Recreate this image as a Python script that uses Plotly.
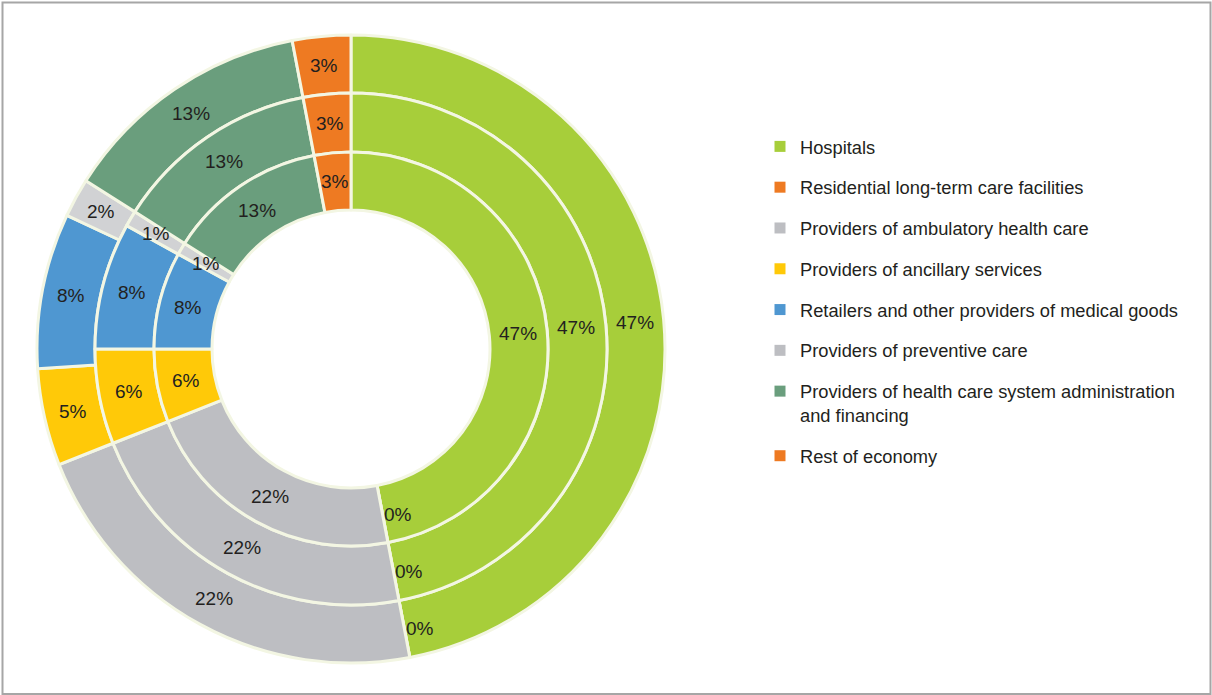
import math
import plotly.graph_objects as go

# Health expenditure by provider, three survey rings (inner, middle, outer)
categories = [
    "Hospitals",
    "Residential long-term care facilities",
    "Providers of ambulatory health care",
    "Providers of ancillary services",
    "Retailers and other providers of medical goods",
    "Providers of preventive care",
    "Providers of health care system administration<br>and financing",
    "Rest of economy",
]
inner_values = [47, 0, 22, 6, 8, 1, 13, 3]
middle_values = [47, 0, 22, 6, 8, 1, 13, 3]
outer_values = [47, 0, 22, 5, 8, 2, 13, 3]

colors = ["#A7CE3A", "#EE7A22", "#BDBEC2", "#FFC908",
          "#4F97D1", "#D1D2D4", "#6A9E7D", "#EE7A22"]
legend_colors = ["#A7CE3A", "#EE7A22", "#BDBEC2", "#FFC908",
                 "#4F97D1", "#BDBEC2", "#6A9E7D", "#EE7A22"]

FONT = "Liberation Sans, Arial, sans-serif"
TEXT = "#231F20"
SEP = "#F3F6E3"

W, H = 1212, 695
CX, CY = 351, 349  # pie centre in pixels
# (values, outer radius, inner radius) in pixels, outermost first
rings = [
    (outer_values, 314, 256),
    (middle_values, 256, 197),
    (inner_values, 197, 139),
]

fig = go.Figure()
annotations = []
for vals, r_out, r_in in rings:
    fig.add_trace(go.Pie(
        labels=categories,
        values=vals,
        sort=False,
        direction="clockwise",
        rotation=0,
        hole=r_in / r_out,
        domain=dict(x=[(CX - r_out) / W, (CX + r_out) / W],
                    y=[1 - (CY + r_out) / H, 1 - (CY - r_out) / H]),
        marker=dict(colors=colors, line=dict(color=SEP, width=3)),
        textinfo="none",
        showlegend=False,
        text=[f"{v}%" for v in vals],
        hoverinfo="label+text",
    ))

    # percentage labels at the middle of each ring segment
    total = sum(vals)
    r_mid = (r_out + r_in) / 2
    cum = 0
    for v in vals:
        ang = math.radians(360 * (cum + v / 2) / total)
        px = CX + r_mid * math.sin(ang)
        py = CY - r_mid * math.cos(ang)
        annotations.append(dict(
            x=px / W, y=1 - py / H, xref="paper", yref="paper",
            text=f"{v}%", showarrow=False,
            xanchor="left" if v == 0 else "center", yanchor="middle",
            font=dict(family=FONT, size=19, color=TEXT),
        ))
        cum += v

# Legend entries
for name, col in zip(categories, legend_colors):
    fig.add_trace(go.Scatter(
        x=[None], y=[None], mode="markers", name=name,
        legendgroup=name,
        marker=dict(symbol="square", size=11, color=col),
        hoverinfo="skip",
    ))

fig.update_layout(
    width=W, height=H,
    margin=dict(l=0, r=0, t=0, b=0),
    paper_bgcolor="white",
    plot_bgcolor="white",
    font=dict(family=FONT, color=TEXT, size=18),
    xaxis=dict(visible=False),
    yaxis=dict(visible=False),
    showlegend=True,
    legend=dict(
        x=760 / W, xanchor="left",
        y=1 - 128 / H, yanchor="top",
        traceorder="grouped",
        tracegroupgap=14,
        valign="top",
        bgcolor="rgba(0,0,0,0)",
        font=dict(family=FONT, size=18.3, color=TEXT),
    ),
    annotations=annotations,
    shapes=[dict(
        type="rect", xref="paper", yref="paper",
        x0=2.5 / W, x1=1210.5 / W, y0=1 - 694 / H, y1=1 - 2.5 / H,
        line=dict(color="#A6A6A6", width=2),
        fillcolor="rgba(0,0,0,0)",
    )],
)

fig.write_html("out.html")
